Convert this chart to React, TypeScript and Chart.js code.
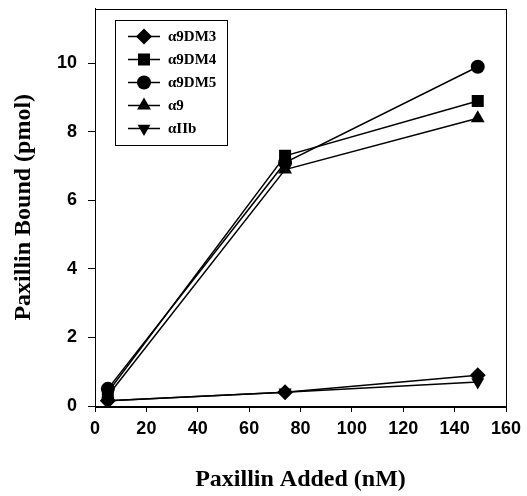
import React, { useEffect, useRef } from "react";
import { Chart, registerables } from "chart.js";

Chart.register(...registerables);

const paxillinAdded = [5, 74, 149];
const a9DM3 = [0.15, 0.4, 0.9];
const a9DM4 = [0.4, 7.3, 8.9];
const a9DM5 = [0.5, 7.1, 9.9];
const a9 = [0.3, 6.9, 8.4];
const aIIb = [0.15, 0.4, 0.7];

const seriesNames = ["α9DM3", "α9DM4", "α9DM5", "α9", "αIIb"];
const xTicks = [0, 20, 40, 60, 80, 100, 120, 140, 160];
const yTicks = [0, 2, 4, 6, 8, 10];

type Marker = { style: string; radius: number; rotation: number };
const markers: Marker[] = [
  { style: "rectRot", radius: 8, rotation: 0 },
  { style: "rect", radius: 8.5, rotation: 0 },
  { style: "circle", radius: 7, rotation: 0 },
  { style: "triangle", radius: 8, rotation: 0 },
  { style: "triangle", radius: 7.5, rotation: 180 },
];

function drawMarker(ctx: CanvasRenderingContext2D, m: Marker, x: number, y: number) {
  const r = m.radius;
  ctx.save();
  ctx.translate(x, y);
  ctx.rotate((m.rotation * Math.PI) / 180);
  ctx.beginPath();
  if (m.style === "circle") {
    ctx.arc(0, 0, r, 0, Math.PI * 2);
  } else if (m.style === "rect") {
    const s = r * Math.SQRT1_2;
    ctx.rect(-s, -s, 2 * s, 2 * s);
  } else if (m.style === "rectRot") {
    ctx.moveTo(0, -r);
    ctx.lineTo(r, 0);
    ctx.lineTo(0, r);
    ctx.lineTo(-r, 0);
    ctx.closePath();
  } else if (m.style === "triangle") {
    ctx.moveTo(0, -r);
    ctx.lineTo(r * 0.866, r * 0.5);
    ctx.lineTo(-r * 0.866, r * 0.5);
    ctx.closePath();
  }
  ctx.fillStyle = "#000";
  ctx.fill();
  ctx.restore();
}

const framePlugin = {
  id: "frameAndLegend",
  afterDraw(chart: any) {
    const ctx: CanvasRenderingContext2D = chart.ctx;
    const a = chart.chartArea;
    ctx.save();
    ctx.strokeStyle = "#000";
    ctx.lineWidth = 1;
    ctx.strokeRect(Math.round(a.left) + 0.5, Math.round(a.top) + 0.5, Math.round(a.right - a.left), Math.round(a.bottom - a.top));

    // legend box
    const bx = a.left + 20;
    const by = a.top + 11;
    const bw = 112;
    const bh = 125;
    ctx.lineWidth = 1;
    ctx.strokeRect(Math.round(bx) + 0.5, Math.round(by) + 0.5, bw, bh);
    ctx.font = "bold 15px 'Liberation Serif', serif";
    ctx.textBaseline = "middle";
    ctx.textAlign = "left";
    ctx.fillStyle = "#000";
    seriesNames.forEach((name, i) => {
      const y = by + 17 + i * 23;
      ctx.beginPath();
      ctx.lineWidth = 1.5;
      ctx.moveTo(bx + 13, y);
      ctx.lineTo(bx + 45, y);
      ctx.stroke();
      drawMarker(ctx, markers[i], bx + 29, y);
      ctx.fillText(name, bx + 53, y + 1);
    });
    ctx.restore();
  },
};

export default function App() {
  const ref = useRef<HTMLCanvasElement>(null);
  useEffect(() => {
    if (!ref.current) return;
    const series = [a9DM3, a9DM4, a9DM5, a9, aIIb];
    const datasets = series.map((vals, i) => ({
      label: seriesNames[i],
      data: vals.map((v, j) => ({ x: paxillinAdded[j], y: v })),
      borderColor: "#000",
      backgroundColor: "#000",
      borderWidth: 1.5,
      pointStyle: markers[i].style as any,
      pointRadius: markers[i].radius,
      pointRotation: markers[i].rotation,
      pointBorderWidth: 0,
      tension: 0,
    }));
    const chart = new Chart(ref.current, {
      type: "line",
      data: { datasets },
      options: {
        animation: false,
        responsive: false,
        layout: { padding: { top: 7, right: 21, left: 0, bottom: 0 } },
        plugins: { legend: { display: false }, tooltip: { enabled: false } },
        scales: {
          x: {
            type: "linear",
            min: 0,
            max: 160,
            afterFit: (s: any) => {
              s.height = 90;
              s.paddingLeft = 0;
              s.paddingRight = 0;
            },
            afterBuildTicks: (s: any) => {
              s.ticks = xTicks.map((v) => ({ value: v }));
            },
            ticks: {
              font: { family: "'Liberation Sans', Arial, sans-serif", size: 18, weight: "bold" },
              color: "#000",
              padding: 6,
              maxRotation: 0,
            },
            grid: { display: true, drawOnChartArea: false, drawTicks: true, tickLength: 6, color: "#000" },
            border: { display: true, color: "#000", width: 1 },
            title: {
              display: true,
              text: "Paxillin Added (nM)",
              color: "#000",
              font: { family: "'Liberation Serif', 'Times New Roman', serif", size: 24, weight: "bold" },
              padding: { top: 0, bottom: 2 },
            },
          },
          y: {
            type: "linear",
            min: 0,
            max: 11.6,
            afterFit: (s: any) => {
              s.width = 95;
              s.paddingTop = 0;
              s.paddingBottom = 0;
            },
            afterBuildTicks: (s: any) => {
              s.ticks = yTicks.map((v) => ({ value: v }));
            },
            ticks: {
              font: { family: "'Liberation Sans', Arial, sans-serif", size: 18, weight: "bold" },
              color: "#000",
              padding: 11,
            },
            grid: { display: true, drawOnChartArea: false, drawTicks: true, tickLength: 7, color: "#000" },
            border: { display: true, color: "#000", width: 1 },
            title: {
              display: true,
              text: "Paxillin Bound (pmol)",
              color: "#000",
              font: { family: "'Liberation Serif', 'Times New Roman', serif", size: 24, weight: "bold" },
              padding: { top: 9, bottom: 0 },
            },
          },
        },
      },
      plugins: [framePlugin],
    });
    return () => chart.destroy();
  }, []);
  return (
    <div style={{ position: "fixed", left: 0, top: 0, width: 527, height: 496, background: "#fff" }}>
      <canvas ref={ref} width={527} height={496} style={{ width: 527, height: 496, display: "block" }} />
    </div>
  );
}
